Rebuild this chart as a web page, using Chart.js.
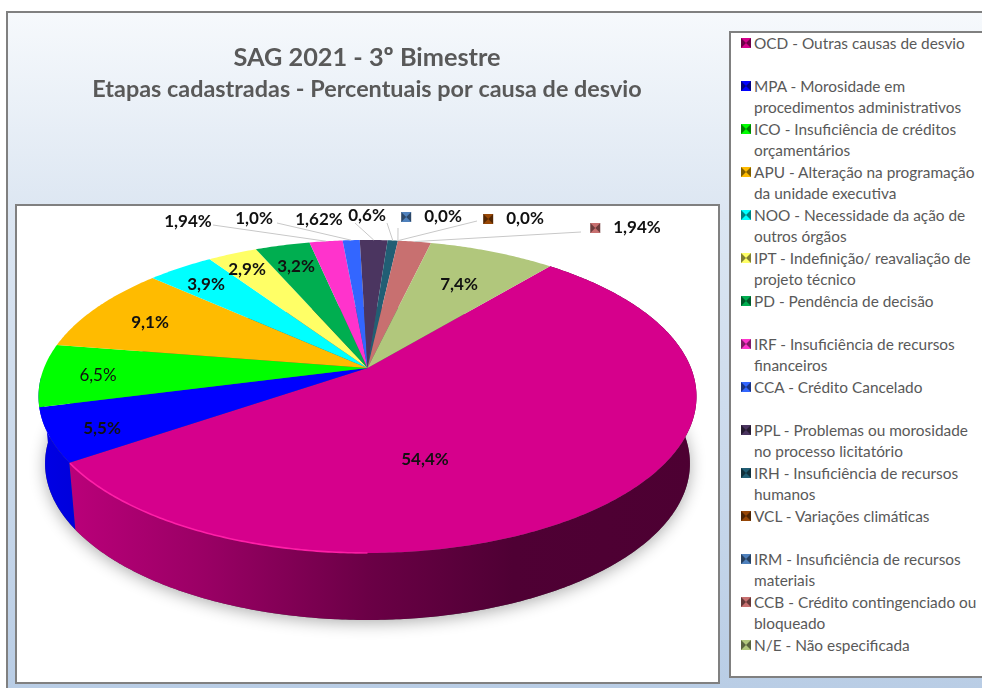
<!DOCTYPE html>
<html lang="pt">
<head>
<meta charset="utf-8">
<title>SAG 2021 - 3º Bimestre</title>
<script src="https://cdn.jsdelivr.net/npm/chart.js@4"></script>
<style>
    html, body { margin: 0; padding: 0; background: #fff; width: 982px; height: 688px; overflow: hidden; }
    #panel { position: absolute; left: 6px; top: 11px; width: 976px; height: 677px; box-sizing: border-box;
        border-top: 2px solid #808080; border-left: 2px solid #808080;
        background: linear-gradient(#f6f9fc 0%, #dce6f2 30%, #b9cde5 100%); }
    #plotFrame { position: absolute; left: 15px; top: 204px; width: 705px; height: 480px; box-sizing: border-box;
        border: 2px solid #808080; background: #fff; }
    #legendBox { position: absolute; left: 729px; top: 31px; width: 260px; height: 647px; box-sizing: border-box;
        border: 2px solid #808080; background: #fff; }
    #chartCanvas { position: absolute; left: 0; top: 0; }
    .legend-row { position: absolute; left: 10px; height: 43px; display: flex;
        font: 15.4px/20.7px Lato, sans-serif; color: #595959; white-space: pre; }
    .legend-key { width: 0; height: 0; margin: 5px 3px 0 0; border-style: solid; border-width: 5px; }
</style>
</head>
<body>
<div id="panel"></div>
<div id="plotFrame"></div>
<div id="legendBox"></div>
<canvas id="chartCanvas" width="734" height="688"></canvas>
<script>
// Valores
const categories = [
    'OCD - Outras causas de desvio',
    'MPA - Morosidade em\nprocedimentos administrativos',
    'ICO - Insuficiência de créditos\norçamentários',
    'APU - Alteração na programação\nda unidade executiva',
    'NOO - Necessidade da ação de\noutros órgãos',
    'IPT - Indefinição/ reavaliação de\nprojeto técnico',
    'PD - Pendência de decisão',
    'IRF - Insuficiência de recursos\nfinanceiros',
    'CCA - Crédito Cancelado',
    'PPL - Problemas ou morosidade\nno processo licitatório',
    'IRH - Insuficiência de recursos\nhumanos',
    'VCL - Variações climáticas',
    'IRM - Insuficiência de recursos\nmateriais',
    'CCB - Crédito contingenciado ou\nbloqueado',
    'N/E - Não especificada'
];
const values = [54.4, 5.5, 6.5, 9.1, 3.9, 2.9, 3.2, 1.94, 1.0, 1.62, 0.6, 0.0, 0.0, 1.94, 7.4];
const valueLabels = ['54,4%', '5,5%', '6,5%', '9,1%', '3,9%', '2,9%', '3,2%', '1,94%', '1,0%', '1,62%', '0,6%', '0,0%', '0,0%', '1,94%', '7,4%'];
const colors = ['#D6008C', '#0000FF', '#00FF00', '#FFBB00', '#00FFFF', '#FFFF66', '#00AE50', '#FF33CC',
    '#3366FF', '#4B3560', '#215E74', '#974706', '#4F81BD', '#C87070', '#B1C77C'];

// Posicao dos rotulos: [centro x, centro y, inicio da linha x, inicio da linha y, tem chave]
const labelSpots = [
    [425, 460], [102, 429], [98, 376], [150, 323], [206, 285], [247, 270], [296, 267],
    [188, 222, 213, 225], [254, 219, 277, 223], [319, 220, 355, 223], [367, 216, 387, 223],
    [525, 219, 477, 221, true], [443, 217, 398, 228, true], [637, 228, 581, 232, true],
    [459, 285]
];

// Perspectiva do disco: o centro do circulo nao cai no centro da elipse
const disc = { cx: 367.5, cy: 368, rx: 323.5, ry: 151.3, k: 0.182, depth: 67, bottomScale: 0.98 };

function project(angle, lower) {
    const u = Math.cos(angle);
    const v = Math.sin(angle);
    const w = 1 - disc.k * v;
    let x = disc.rx * u / w;
    let y = disc.cy + disc.ry * v / w;
    if (lower) {
        x *= disc.bottomScale;
        y += disc.depth;
    }
    return { x: disc.cx + x, y: y };
}

function shade(hex, f) {
    const n = parseInt(hex.slice(1), 16);
    const r = Math.round((n >> 16 & 255) * f);
    const g = Math.round((n >> 8 & 255) * f);
    const b = Math.round((n & 255) * f);
    return `rgb(${r},${g},${b})`;
}

function traceArc(ctx, a0, a1, lower, start) {
    const steps = Math.max(2, Math.ceil(Math.abs(a1 - a0) / 0.01));
    for (let i = 0; i <= steps; i++) {
        const p = project(a0 + (a1 - a0) * i / steps, lower);
        if (i === 0 && start) ctx.moveTo(p.x, p.y);
        else ctx.lineTo(p.x, p.y);
    }
}

function isFront(arc) {
    return Math.sin((arc.startAngle + arc.endAngle) / 2) >= disc.k;
}

function drawBevelKey(ctx, x, y, color) {
    const s = 10;
    ctx.fillStyle = shade(color, 0.55);
    ctx.fillRect(x, y, s, s);
    ctx.fillStyle = color;
    ctx.beginPath();
    ctx.moveTo(x, y); ctx.lineTo(x + s, y); ctx.lineTo(x + s / 2, y + s / 2);
    ctx.moveTo(x, y + s); ctx.lineTo(x + s, y + s); ctx.lineTo(x + s / 2, y + s / 2);
    ctx.fill();
}

const pie3dPlugin = {
    id: 'pie3d',
    beforeDatasetDraw() {
        return false; // o disco e desenhado abaixo, a partir dos angulos do Chart.js
    },
    afterDatasetsDraw(chart) {
        const ctx = chart.ctx;
        const arcs = chart.getDatasetMeta(0).data;

        // sombra
        ctx.save();
        ctx.shadowColor = 'rgba(0,0,0,0.32)';
        ctx.shadowBlur = 16;
        ctx.shadowOffsetY = 3;
        ctx.fillStyle = '#555';
        ctx.beginPath();
        traceArc(ctx, 0, Math.PI * 2, true, true);
        ctx.closePath();
        ctx.fill();
        ctx.restore();

        // parede lateral, so nas fatias voltadas para a frente
        arcs.forEach((arc, i) => {
            if (values[i] === 0 || !isFront(arc)) return;
            const grad = ctx.createLinearGradient(disc.cx - 329, 0, disc.cx + 329, 0);
            grad.addColorStop(0, shade(colors[i], 0.9));
            grad.addColorStop(0.25, shade(colors[i], 0.72));
            grad.addColorStop(0.5, shade(colors[i], 0.5));
            grad.addColorStop(0.72, shade(colors[i], 0.37));
            grad.addColorStop(1, shade(colors[i], 0.36));
            ctx.fillStyle = grad;
            // a ultima fatia da frente fecha a parede ate a silhueta
            const lastFront = !isFront(arcs[(i + 1) % arcs.length]);
            const end = arc.endAngle + (lastFront ? 0.2 : 0);
            ctx.beginPath();
            traceArc(ctx, arc.startAngle, end, false, true);
            traceArc(ctx, end, arc.startAngle, true, false);
            ctx.closePath();
            ctx.fill();
        });

        // face superior
        arcs.forEach((arc, i) => {
            if (values[i] === 0) return;
            ctx.fillStyle = colors[i];
            ctx.beginPath();
            ctx.moveTo(disc.cx, disc.cy);
            traceArc(ctx, arc.startAngle, arc.endAngle, false, false);
            ctx.closePath();
            ctx.fill();
        });

        // brilho na borda frontal da maior fatia
        const big = arcs[0];
        const rim = ctx.createLinearGradient(disc.cx - 300, 0, disc.cx + 150, 0);
        rim.addColorStop(0, '#FF1FA8');
        rim.addColorStop(0.6, '#FF1FA8');
        rim.addColorStop(1, 'rgba(255,31,168,0)');
        ctx.save();
        ctx.strokeStyle = rim;
        ctx.lineWidth = 1.6;
        ctx.beginPath();
        traceArc(ctx, Math.PI * 0.5, big.endAngle - 0.004, false, true);
        ctx.stroke();
        ctx.restore();

        // linhas de chamada e rotulos
        ctx.textAlign = 'center';
        ctx.textBaseline = 'middle';
        labelSpots.forEach((spot, i) => {
            ctx.font = (i === 2 ? '' : 'bold ') + '17px Lato, sans-serif';
            if (spot.length > 2) {
                const arc = arcs[i];
                const edge = project((arc.startAngle + arc.endAngle) / 2, false);
                ctx.strokeStyle = '#c8c8c8';
                ctx.lineWidth = 1;
                ctx.beginPath();
                ctx.moveTo(spot[2], spot[3]);
                ctx.lineTo(edge.x, edge.y);
                ctx.stroke();
            }
            if (spot[4]) {
                const w = ctx.measureText(valueLabels[i]).width;
                drawBevelKey(ctx, spot[0] - w / 2 - 23, spot[1] - 5, colors[i]);
            }
            ctx.fillStyle = '#111';
            ctx.fillText(valueLabels[i], spot[0], spot[1]);
        });
    }
};

new Chart(document.getElementById('chartCanvas'), {
    type: 'pie',
    data: {
        labels: categories,
        datasets: [{ data: values, backgroundColor: colors, borderWidth: 0 }]
    },
    options: {
        responsive: false,
        animation: false,
        rotation: 40,
        layout: { padding: { top: 33 } },
        plugins: {
            legend: { display: false },
            tooltip: { enabled: false },
            title: {
                display: true,
                text: 'SAG 2021 - 3º Bimestre',
                color: '#595959',
                font: { family: 'Lato, sans-serif', size: 25.3, weight: 'bold' },
                padding: { top: 10, bottom: 1 }
            },
            subtitle: {
                display: true,
                text: 'Etapas cadastradas - Percentuais por causa de desvio',
                color: '#595959',
                font: { family: 'Lato, sans-serif', size: 23.4, weight: 'bold' },
                padding: { top: 1, bottom: 0 }
            }
        }
    },
    plugins: [pie3dPlugin]
});

// Legenda em colunas fixas, como no original
const legendBox = document.getElementById('legendBox');
categories.forEach((cat, i) => {
    const row = document.createElement('div');
    row.className = 'legend-row';
    row.style.top = (i * 43) + 'px';
    const key = document.createElement('span');
    key.className = 'legend-key';
    key.style.borderColor = `${colors[i]} ${shade(colors[i], 0.5)}`;
    const text = document.createElement('span');
    text.textContent = cat;
    row.appendChild(key);
    row.appendChild(text);
    legendBox.appendChild(row);
});
</script>
</body>
</html>
